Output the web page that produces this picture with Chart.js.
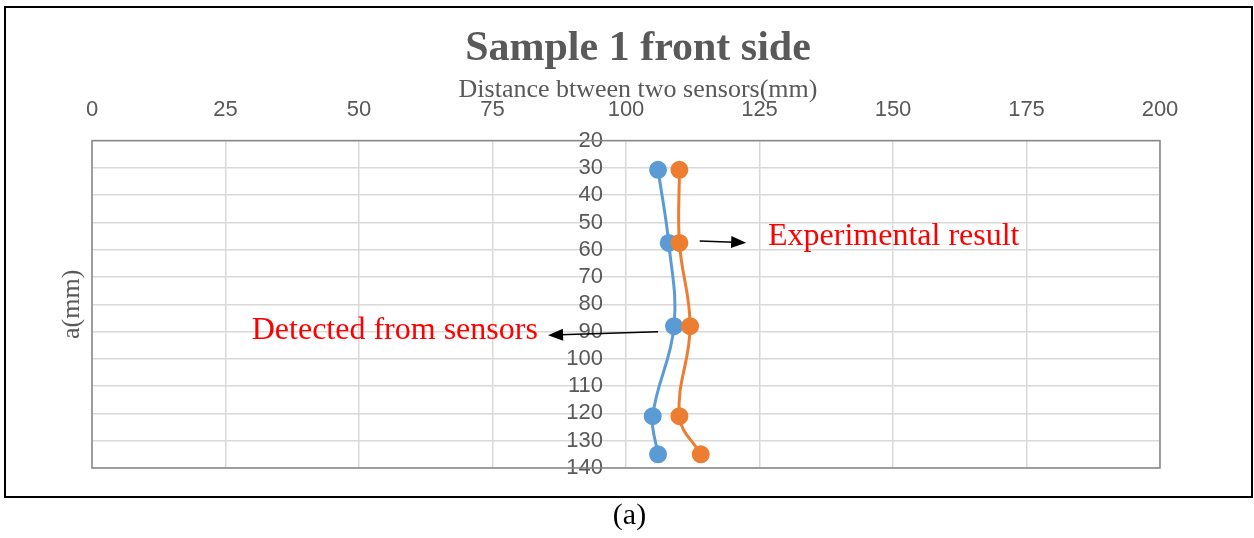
<!DOCTYPE html>
<html>
<head>
<meta charset="utf-8">
<title>Sample 1 front side</title>
<script src="https://cdn.jsdelivr.net/npm/chart.js@4.4.1/dist/chart.umd.min.js"></script>
<style>
    html, body { margin: 0; padding: 0; background: #fff; }
    #wrap { position: relative; width: 1254px; height: 538px; overflow: hidden; }
    #frame {
        position: absolute; left: 4px; top: 6px; width: 1249px; height: 492px;
        box-sizing: border-box; border: 2px solid #000;
    }
    #chart { position: absolute; left: 0; top: 0; }
    #caption {
        position: absolute; left: 0; width: 1259px; top: 497px; text-align: center;
        font: 30px "Liberation Serif", "Times New Roman", serif; color: #000;
    }
</style>
</head>
<body>
<div id="wrap">
    <div id="frame"></div>
    <canvas id="chart" width="1254" height="538"></canvas>
    <div id="caption">(a)</div>
</div>
<script>
// Depth a (mm) and the distance between the two sensors (mm)
const depthDetected = [30.7, 57.5, 88, 121, 135];
const distDetected = [106, 108, 109, 105, 106];
const depthExperimental = [30.7, 57.5, 88, 121, 135];
const distExperimental = [110, 110, 112, 110, 114];

const xTicks = [0, 25, 50, 75, 100, 125, 150, 175, 200];
const yTicks = [20, 30, 40, 50, 60, 70, 80, 90, 100, 110, 120, 130, 140];

// Callout labels with their arrows, in axis units
const callouts = [
    { text: 'Experimental result', x: 126.6, y: 58.1, align: 'left', from: [113.8, 56.8], to: [122.5, 57.4] },
    { text: 'Detected from sensors', x: 83.5, y: 92.8, align: 'right', from: [106.0, 90.1], to: [85.4, 91.3] }
];

const GREY = '#595959';
const SERIF = '"Liberation Serif", "Times New Roman", serif';
const SANS = '"Liberation Sans", Arial, sans-serif';

function toPoints(xs, ys) {
    return xs.map((x, i) => ({ x: x, y: ys[i] }));
}

// Plot frame around the chart area
const frameBorder = {
    id: 'frameBorder',
    afterDraw(chart) {
        const { ctx, chartArea: a } = chart;
        ctx.save();
        ctx.strokeStyle = '#868686';
        ctx.lineWidth = 1.5;
        ctx.strokeRect(a.left, a.top, a.right - a.left, a.bottom - a.top);
        ctx.restore();
    }
};

// Red callout text and black arrows
const calloutPlugin = {
    id: 'callouts',
    afterDatasetsDraw(chart) {
        const { ctx, scales: { x, y } } = chart;
        ctx.save();
        callouts.forEach(c => {
            const x1 = x.getPixelForValue(c.from[0]), y1 = y.getPixelForValue(c.from[1]);
            const x2 = x.getPixelForValue(c.to[0]), y2 = y.getPixelForValue(c.to[1]);
            const ang = Math.atan2(y2 - y1, x2 - x1);
            const len = 15, half = 6;
            ctx.strokeStyle = '#000';
            ctx.fillStyle = '#000';
            ctx.lineWidth = 1.5;
            ctx.beginPath();
            ctx.moveTo(x1, y1);
            ctx.lineTo(x2 - Math.cos(ang) * len * 0.8, y2 - Math.sin(ang) * len * 0.8);
            ctx.stroke();
            ctx.beginPath();
            ctx.moveTo(x2, y2);
            ctx.lineTo(x2 - Math.cos(ang) * len - Math.sin(ang) * half, y2 - Math.sin(ang) * len + Math.cos(ang) * half);
            ctx.lineTo(x2 - Math.cos(ang) * len + Math.sin(ang) * half, y2 - Math.sin(ang) * len - Math.cos(ang) * half);
            ctx.closePath();
            ctx.fill();

            ctx.fillStyle = '#ff0000';
            ctx.font = '32px ' + SERIF;
            ctx.textAlign = c.align;
            ctx.textBaseline = 'alphabetic';
            ctx.fillText(c.text, x.getPixelForValue(c.x), y.getPixelForValue(c.y));
        });
        ctx.restore();
    }
};

new Chart(document.getElementById('chart'), {
    type: 'scatter',
    data: {
        datasets: [
            {
                label: 'Experimental result',
                data: toPoints(distExperimental, depthExperimental),
                borderColor: '#ED7D31',
                backgroundColor: '#ED7D31',
                showLine: true,
                tension: 0.4,
                borderWidth: 3,
                pointRadius: 7.5,
                pointHoverRadius: 7.5,
                order: 1
            },
            {
                label: 'Detected from sensors',
                data: toPoints(distDetected, depthDetected),
                borderColor: '#5B9BD5',
                backgroundColor: '#5B9BD5',
                showLine: true,
                tension: 0.4,
                borderWidth: 3,
                pointRadius: 7.5,
                pointHoverRadius: 7.5,
                order: 2
            }
        ]
    },
    options: {
        responsive: false,
        animation: false,
        events: [],
        layout: { padding: { left: 22, right: 0, top: 0, bottom: 70 } },
        plugins: {
            legend: { display: false },
            tooltip: { enabled: false },
            title: {
                display: true,
                text: 'Sample 1 front side',
                color: GREY,
                font: { family: SERIF, size: 42, weight: 'bold' },
                padding: { top: 24, bottom: 0 }
            },
            subtitle: {
                display: true,
                text: 'Distance btween two sensors(mm)',
                color: GREY,
                font: { family: SERIF, size: 26 },
                padding: { top: 0, bottom: -25 }
            }
        },
        scales: {
            x: {
                type: 'linear',
                position: 'top',
                min: 0,
                max: 200,
                afterBuildTicks(scale) {
                    scale.ticks = xTicks.map(v => ({ value: v }));
                },
                afterFit(scale) { scale.height = 60; },
                grid: { color: '#d9d9d9', lineWidth: 1.5, drawTicks: false },
                border: { display: false },
                ticks: { color: GREY, font: { family: SANS, size: 22 }, padding: 17, maxRotation: 0, autoSkip: false }
            },
            y: {
                type: 'linear',
                position: { x: 95.7 },
                reverse: true,
                min: 20,
                max: 140,
                afterBuildTicks(scale) {
                    scale.ticks = yTicks.map(v => ({ value: v }));
                },
                grid: { color: '#d9d9d9', lineWidth: 1.5, drawTicks: false },
                border: { display: false },
                ticks: { color: GREY, font: { family: SANS, size: 22 }, autoSkip: false }
            },
            yTitle: {
                type: 'linear',
                position: 'left',
                min: 0,
                max: 1,
                afterFit(scale) { scale.width = 70; },
                grid: { display: false },
                border: { display: false },
                ticks: { display: false },
                title: {
                    display: true,
                    text: 'a(mm)',
                    color: GREY,
                    font: { family: SERIF, size: 26 },
                    padding: { top: 35, bottom: 0 }
                }
            },
            xRight: {
                type: 'linear',
                position: 'right',
                min: 0,
                max: 1,
                afterFit(scale) { scale.width = 94; },
                grid: { display: false },
                border: { display: false },
                ticks: { display: false }
            }
        }
    },
    plugins: [frameBorder, calloutPlugin]
});
</script>
</body>
</html>
